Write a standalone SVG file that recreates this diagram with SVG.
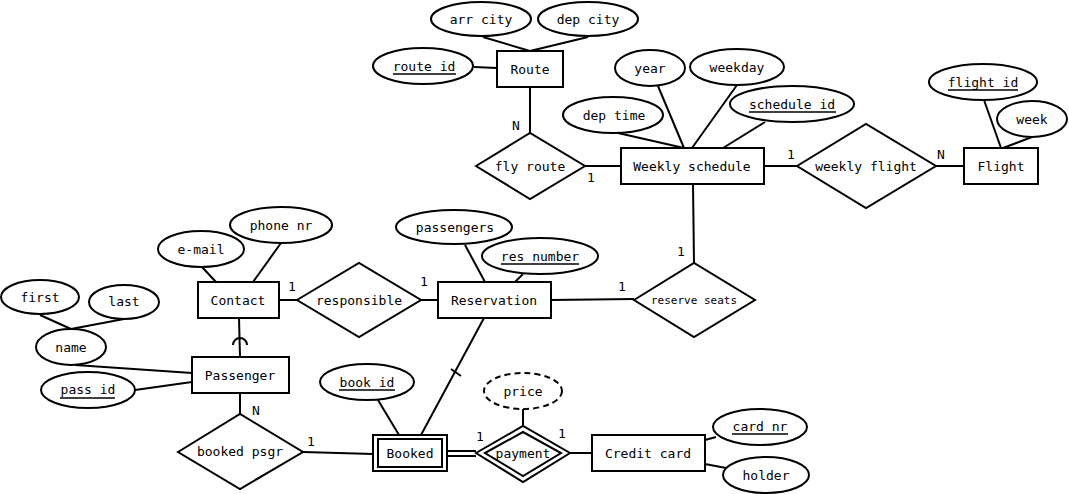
<svg xmlns="http://www.w3.org/2000/svg" width="1069" height="494" viewBox="0 0 1069 494">
<style>
.s{fill:#fff;stroke:#000;stroke-width:2}
.l{stroke:#000;stroke-width:2;fill:none}
.u{stroke:#000;stroke-width:1.6}
text{font-family:"DejaVu Sans Mono","Liberation Mono",monospace;font-size:13px;fill:#000}
.t{text-anchor:middle;dominant-baseline:central}
</style>
<rect width="1069" height="494" fill="#fff"/>
<g id="connectors">
<line class="l" x1="483" y1="37" x2="530" y2="51"/>
<line class="l" x1="588" y1="37" x2="530" y2="51"/>
<line class="l" x1="474" y1="67" x2="497" y2="68"/>
<line class="l" x1="530" y1="87" x2="530" y2="133"/>
<line class="l" x1="585" y1="166" x2="621" y2="166"/>
<line class="l" x1="658" y1="86" x2="684" y2="148"/>
<line class="l" x1="737" y1="85" x2="692" y2="148"/>
<line class="l" x1="618" y1="133" x2="684" y2="148"/>
<line class="l" x1="765" y1="122" x2="723" y2="148"/>
<line class="l" x1="764" y1="166" x2="797" y2="166"/>
<line class="l" x1="936" y1="166" x2="964" y2="166"/>
<line class="l" x1="984" y1="100" x2="1001" y2="148"/>
<line class="l" x1="1032" y1="137" x2="1003" y2="148"/>
<line class="l" x1="693" y1="184" x2="694" y2="263"/>
<line class="l" x1="551" y1="300" x2="634" y2="299"/>
<line class="l" x1="465" y1="245" x2="485" y2="282"/>
<line class="l" x1="523" y1="274" x2="515" y2="282"/>
<line class="l" x1="421" y1="300" x2="438" y2="300"/>
<line class="l" x1="279" y1="300" x2="297" y2="300"/>
<line class="l" x1="202" y1="267" x2="216" y2="282"/>
<line class="l" x1="281" y1="243" x2="253" y2="282"/>
<line class="l" x1="239" y1="318" x2="240" y2="357"/>
<path class="l" d="M233,345 A7,7 0 0 1 247,345"/>
<line class="l" x1="75" y1="365" x2="192" y2="373"/>
<line class="l" x1="40" y1="315" x2="71" y2="329"/>
<line class="l" x1="124" y1="319" x2="71" y2="329"/>
<line class="l" x1="135" y1="390" x2="192" y2="382"/>
<line class="l" x1="240" y1="393" x2="240" y2="414"/>
<line class="l" x1="303" y1="452" x2="373" y2="454"/>
<line class="l" x1="378" y1="400" x2="399" y2="435"/>
<line class="l" x1="484" y1="318" x2="421" y2="435"/>
<line class="l" x1="451" y1="369" x2="461" y2="376"/>
<line class="l" x1="447" y1="451" x2="476" y2="451"/>
<line class="l" x1="447" y1="456" x2="476" y2="456"/>
<line class="l" x1="523" y1="409" x2="523" y2="426"/>
<line class="l" x1="570" y1="453" x2="592" y2="453"/>
<line class="l" x1="705" y1="440" x2="716" y2="437"/>
<line class="l" x1="705" y1="464" x2="726" y2="468"/>
</g>
<g id="labels">
<text x="516" y="125" class="t">N</text>
<text x="591" y="177" class="t">1</text>
<text x="791" y="154" class="t">1</text>
<text x="941" y="154" class="t">N</text>
<text x="681" y="251" class="t">1</text>
<text x="622" y="286" class="t">1</text>
<text x="424" y="281" class="t">1</text>
<text x="292" y="286" class="t">1</text>
<text x="256" y="410" class="t">N</text>
<text x="311" y="441" class="t">1</text>
<text x="480" y="436" class="t">1</text>
<text x="562" y="433" class="t">1</text>
</g>
<g id="route"><rect class="s" x="497" y="51" width="66" height="36"/><text x="530" y="69" class="t">Route</text></g>
<g id="arr_city"><ellipse class="s" cx="481" cy="19" rx="50" ry="17"/><text x="481" y="19" class="t">arr city</text></g>
<g id="dep_city"><ellipse class="s" cx="588" cy="19" rx="50" ry="17"/><text x="588" y="19" class="t">dep city</text></g>
<g id="route_id"><ellipse class="s" cx="423" cy="66" rx="50" ry="18"/><text x="424" y="66" class="t">route id</text><line class="u" x1="393" y1="74" x2="456" y2="74"/></g>
<g id="fly_route"><polygon class="s" points="476,166 530,133 585,166 530,199"/><text x="530" y="166" class="t">fly route</text></g>
<g id="weekly_schedule"><rect class="s" x="621" y="148" width="143" height="36"/><text x="692" y="166" class="t">Weekly schedule</text></g>
<g id="year"><ellipse class="s" cx="650" cy="68" rx="35" ry="18"/><text x="650" y="68" class="t">year</text></g>
<g id="weekday"><ellipse class="s" cx="737" cy="67" rx="47" ry="18"/><text x="737" y="67" class="t">weekday</text></g>
<g id="dep_time"><ellipse class="s" cx="613" cy="115" rx="50" ry="18"/><text x="614" y="115" class="t">dep time</text></g>
<g id="schedule_id"><ellipse class="s" cx="792" cy="104" rx="62" ry="18"/><text x="792" y="104" class="t">schedule id</text><line class="u" x1="749" y1="112" x2="836" y2="112"/></g>
<g id="weekly_flight"><polygon class="s" points="797,166 866,124 936,166 866,208"/><text x="866" y="166" class="t">weekly flight</text></g>
<g id="flight"><rect class="s" x="964" y="148" width="74" height="36"/><text x="1001" y="166" class="t">Flight</text></g>
<g id="flight_id"><ellipse class="s" cx="983" cy="82" rx="54" ry="18"/><text x="983" y="82" class="t">flight id</text><line class="u" x1="948" y1="90" x2="1018" y2="90"/></g>
<g id="week"><ellipse class="s" cx="1032" cy="119" rx="35" ry="18"/><text x="1032" y="119" class="t">week</text></g>
<g id="reserve_seats"><polygon class="s" points="634,300 694,263 755,300 694,337"/><text x="694" y="300" class="t" style="font-size:11px">reserve seats</text></g>
<g id="reservation"><rect class="s" x="438" y="282" width="113" height="36"/><text x="494" y="300" class="t">Reservation</text></g>
<g id="passengers"><ellipse class="s" cx="454" cy="227" rx="58" ry="17"/><text x="455" y="227" class="t">passengers</text></g>
<g id="res_number"><ellipse class="s" cx="540" cy="256" rx="58" ry="18"/><text x="540" y="256" class="t">res number</text><line class="u" x1="501" y1="264" x2="579" y2="264"/></g>
<g id="responsible"><polygon class="s" points="297,300 359,263 421,300 359,337"/><text x="359" y="300" class="t">responsible</text></g>
<g id="contact"><rect class="s" x="198" y="282" width="81" height="36"/><text x="238" y="300" class="t">Contact</text></g>
<g id="e_mail"><ellipse class="s" cx="201" cy="249" rx="43" ry="18"/><text x="201" y="249" class="t">e-mail</text></g>
<g id="phone_nr"><ellipse class="s" cx="281" cy="225" rx="51" ry="18"/><text x="281" y="225" class="t">phone nr</text></g>
<g id="passenger"><rect class="s" x="192" y="357" width="97" height="36"/><text x="240" y="375" class="t">Passenger</text></g>
<g id="name"><ellipse class="s" cx="71" cy="347" rx="35" ry="18"/><text x="71" y="347" class="t">name</text></g>
<g id="first"><ellipse class="s" cx="40" cy="297" rx="39" ry="17"/><text x="40" y="297" class="t">first</text></g>
<g id="last"><ellipse class="s" cx="124" cy="302" rx="35" ry="17"/><text x="124" y="301" class="t">last</text></g>
<g id="pass_id"><ellipse class="s" cx="88" cy="390" rx="47" ry="18"/><text x="88" y="389" class="t">pass id</text><line class="u" x1="60" y1="398" x2="115" y2="398"/></g>
<g id="booked_psgr"><polygon class="s" points="178,452 240,414 303,452 240,489"/><text x="240" y="451" class="t">booked psgr</text></g>
<g id="booked"><rect class="s" x="373" y="435" width="74" height="36"/><rect class="s" x="378" y="439" width="64" height="28"/><text x="410" y="453" class="t">Booked</text></g>
<g id="book_id"><ellipse class="s" cx="367" cy="382" rx="47" ry="18"/><text x="367" y="382" class="t">book id</text><line class="u" x1="339" y1="390" x2="395" y2="390"/></g>
<g id="payment"><polygon class="s" points="476,453 523,426 570,453 523,482"/><polygon class="s" points="485,453 523,432 561,453 523,476"/><text x="523" y="453" class="t">payment</text></g>
<g id="price"><ellipse class="s" cx="523" cy="391" rx="39" ry="18" stroke-dasharray="6,4"/><text x="523" y="391" class="t">price</text></g>
<g id="credit_card"><rect class="s" x="592" y="435" width="113" height="36"/><text x="648" y="453" class="t">Credit card</text></g>
<g id="card_nr"><ellipse class="s" cx="760" cy="427" rx="47" ry="18"/><text x="760" y="426" class="t">card nr</text><line class="u" x1="732" y1="434" x2="788" y2="434"/></g>
<g id="holder"><ellipse class="s" cx="766" cy="475" rx="43" ry="18"/><text x="766" y="475" class="t">holder</text></g>
</svg>
